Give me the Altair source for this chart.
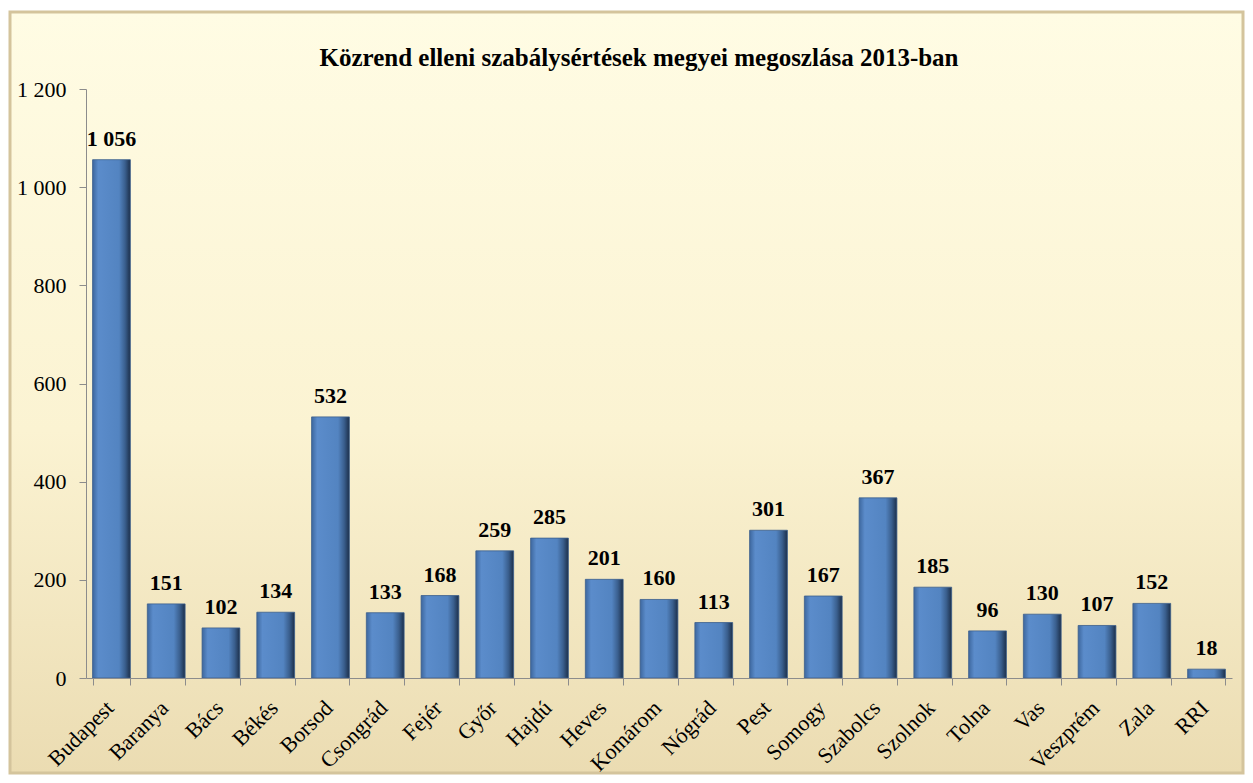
import altair as alt
import pandas as pd

counties = ["Budapest", "Baranya", "Bács", "Békés", "Borsod", "Csongrád", "Fejér", "Győr",
            "Hajdú", "Heves", "Komárom", "Nógrád", "Pest", "Somogy", "Szabolcs", "Szolnok",
            "Tolna", "Vas", "Veszprém", "Zala", "RRI"]
values = [1056, 151, 102, 134, 532, 133, 168, 259, 285, 201, 160, 113, 301, 167, 367, 185,
          96, 130, 107, 152, 18]
y_ticks = [0, 200, 400, 600, 800, 1000, 1200]
title_text = "Közrend elleni szabálysértések megyei megoszlása 2013-ban"

df = pd.DataFrame({"megye": counties, "ertek": values})
df["felirat"] = df["ertek"].map(lambda v: f"{v:,}".replace(",", " "))

W, H = 1146, 589
FONT = "Liberation Serif"

bg = alt.Chart(alt.Data(values=[{}])).mark_rect(
    fill=alt.Gradient(gradient="linear", x1=0, y1=0, x2=0, y2=1,
                      stops=[alt.GradientStop(color="#FFFCE4", offset=0),
                             alt.GradientStop(color="#FBF3D2", offset=0.55),
                             alt.GradientStop(color="#EBDCB2", offset=1)]),
    stroke="#D4C49C", strokeWidth=3
).encode(x=alt.value(-76), x2=alt.value(W + 11), y=alt.value(-77), y2=alt.value(H + 95))

x_enc = alt.X("megye:N", sort=counties, title=None,
              scale=alt.Scale(paddingInner=0.31, paddingOuter=0.12),
              axis=alt.Axis(labelAngle=-45, labelAlign="right", labelBaseline="top",
                            labelFont=FONT, labelFontSize=22, labelColor="black",
                            labelPadding=12, labelOffset=-9, zindex=2,
                            tickBand="extent", tickSize=7, tickColor="#8C8C8C",
                            domainColor="#8C8C8C", grid=False))
y_enc = alt.Y("ertek:Q", title=None,
              scale=alt.Scale(domain=[0, 1200], nice=False),
              axis=alt.Axis(values=y_ticks, grid=False, labelFont=FONT, labelFontSize=22,
                            labelColor="black", tickSize=7, tickColor="#8C8C8C",
                            domainColor="#8C8C8C", labelPadding=13, zindex=2,
                            labelExpr="replace(format(datum.value, ','), /,/g, ' ')"))

bars = alt.Chart(df).mark_bar(
    fill=alt.Gradient(gradient="linear", x1=0, y1=0, x2=1, y2=0,
                      stops=[alt.GradientStop(color="#3D679E", offset=0),
                             alt.GradientStop(color="#5B8CCB", offset=0.15),
                             alt.GradientStop(color="#5384C1", offset=0.7),
                             alt.GradientStop(color="#3A5F8E", offset=0.86),
                             alt.GradientStop(color="#1C2F4A", offset=1)]),
    stroke="#3B5E8C", strokeWidth=0.8
).encode(x=x_enc, y=y_enc)

labels = alt.Chart(df).mark_text(
    font=FONT, fontSize=22, fontWeight="bold", color="black", baseline="bottom", dy=-9
).encode(x=alt.X("megye:N", sort=counties), y="ertek:Q", text="felirat:N")

chart = alt.layer(bg, bars, labels).properties(
    width=W, height=H,
    autosize=alt.AutoSizeParams(type="none"),
    padding={"left": 78, "top": 81, "right": 13, "bottom": 104},
    background="white",
    title=alt.TitleParams(title_text, font=FONT, fontSize=25, fontWeight="bold",
                          color="black", anchor="middle", dx=-20, offset=-60)
).configure_view(stroke=None)

chart.save("out.html", embed_options={"renderer": "svg", "actions": False})
